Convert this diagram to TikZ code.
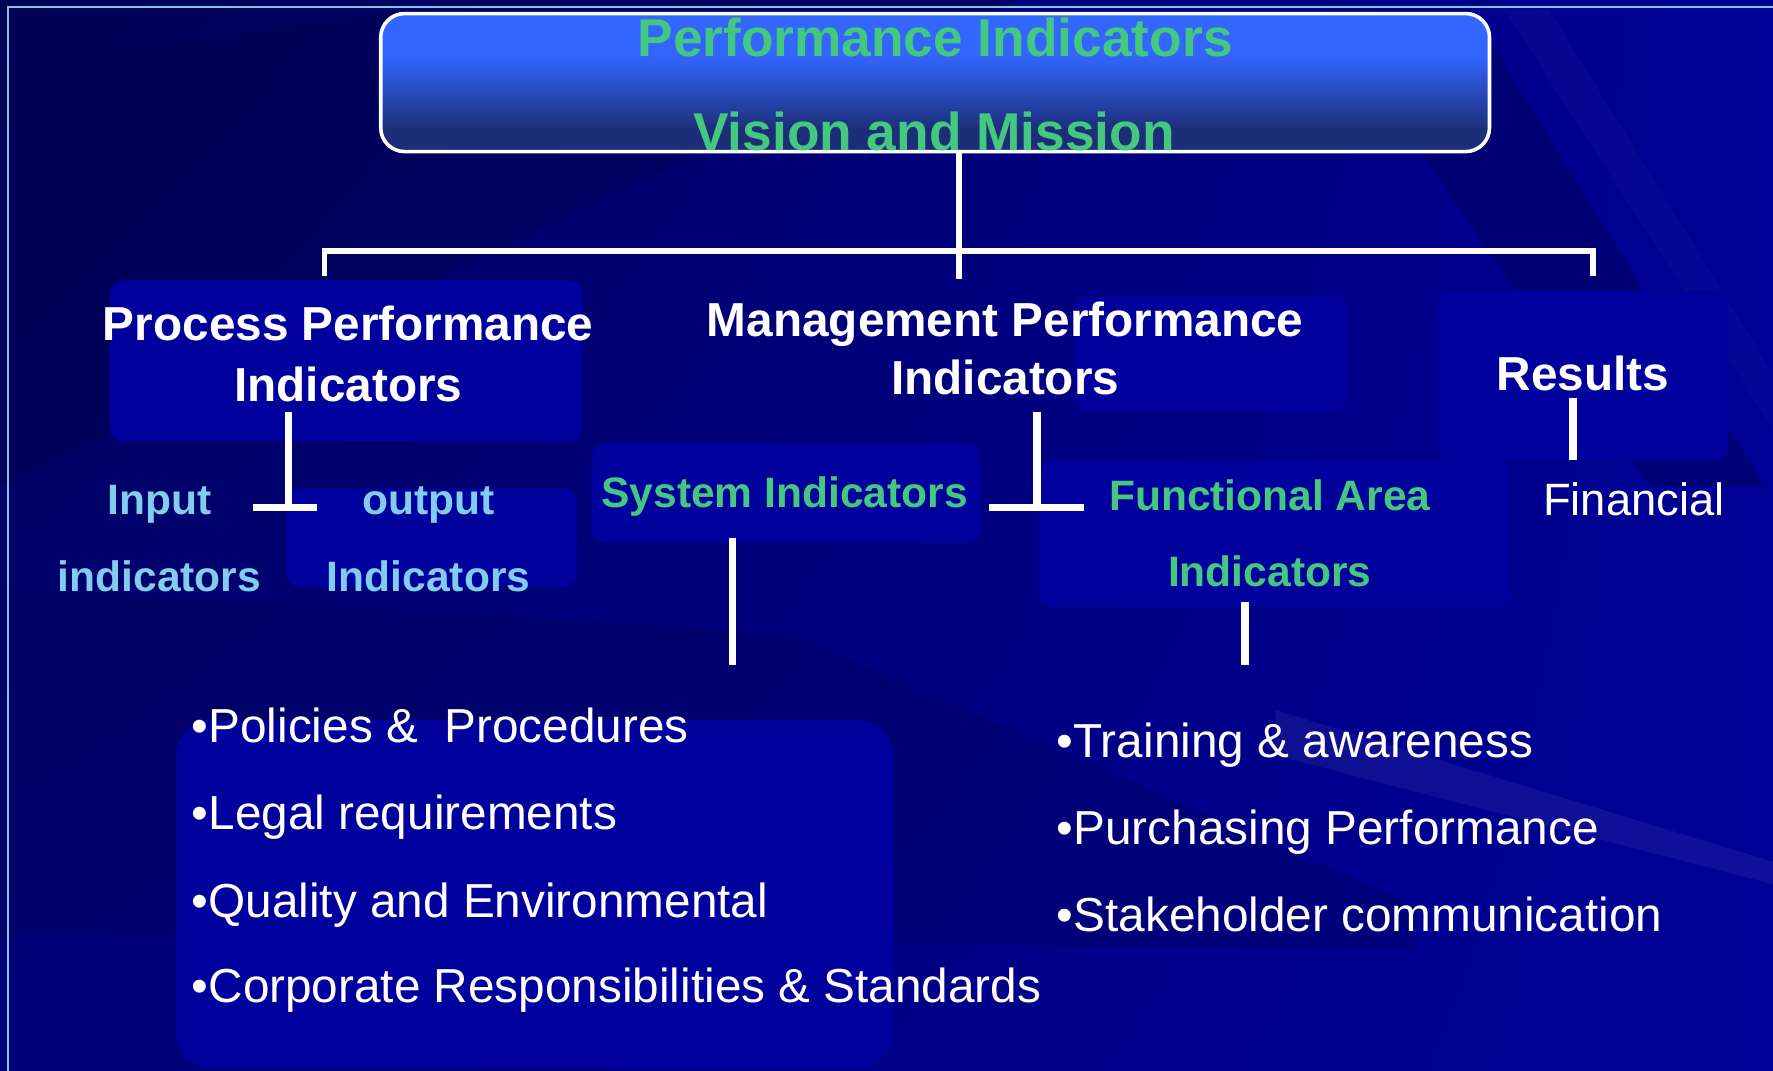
\documentclass[tikz,border=0pt]{standalone}
\usepackage{fontspec}
\setmainfont{Liberation Sans}
\usetikzlibrary{positioning,shadings}

\definecolor{bgdeep}{RGB}{0,0,84}
\definecolor{bgmid}{RGB}{0,0,122}
\definecolor{bglite}{RGB}{0,0,150}
\definecolor{panelblue}{RGB}{0,0,156}
\definecolor{framecyan}{RGB}{122,200,230}
\definecolor{boxtop}{RGB}{51,102,255}
\definecolor{boxbot}{RGB}{28,46,120}
\definecolor{kpigreen}{RGB}{68,199,127}
\definecolor{kpisky}{RGB}{130,205,238}

% top box: bright upper part, dark lower part
\pgfdeclareverticalshading{visionshade}{100bp}{color(0bp)=(boxbot); color(33bp)=(boxbot);
  color(60bp)=(boxtop); color(100bp)=(boxtop)}

\tikzset{
  panel/.style={fill=panelblue, rounded corners=0.12cm},
  link/.style={white, line width=1.4pt},
  stub/.style={white, line width=1.85pt},
  titletext/.style={text=kpigreen, font=\bfseries\fontsize{13.4}{16}\selectfont, anchor=base, inner sep=0pt},
  headtext/.style={text=white, font=\bfseries\fontsize{12}{15.4}\selectfont, align=center, anchor=base, inner sep=0pt},
  subtext/.style={text=kpigreen, font=\bfseries\fontsize{10.7}{19.3}\selectfont, align=center, anchor=base, inner sep=0pt},
  iotext/.style={subtext, text=kpisky},
  fintext/.style={text=white, font=\fontsize{11.4}{14}\selectfont, anchor=base, inner sep=0pt},
  listitem/.style={text=white, font=\fontsize{12}{14}\selectfont, anchor=base west, inner sep=0pt},
}

\begin{document}
\begin{tikzpicture}[x=0.01cm, y=-0.01cm]
  \useasboundingbox (0,0) rectangle (1568,947);

  % backdrop with its streaks
  \shade[upper left=bgdeep, upper right=bglite, lower left=bgmid, lower right=bglite]
    (0,0) rectangle (1568,947);
  \fill[bgdeep, opacity=.5] (0,60) -- (420,0) -- (900,0) -- (0,430) -- cycle;
  \fill[bgdeep, opacity=.3] (0,520) -- (700,560) -- (1250,800) -- (1250,840) -- (0,825) -- cycle;
  \fill[bgdeep, opacity=.45] (1170,8) -- (1300,8) -- (1560,430) -- (1460,430) -- cycle;
  \fill[white, opacity=.025] (1330,8) -- (1370,8) -- (1568,330) -- (1568,380) -- cycle;
  \fill[white, opacity=.06] (1128,628) -- (1568,762) -- (1568,782) -- (1128,668) -- cycle;
  \draw[framecyan, line width=.55pt] (7,947) -- (7,6) -- (1568,6);

  % panels behind the labels
  \fill[panel] (97,248) rectangle (515,390);
  \fill[panel] (253,432) rectangle (510,519);
  \fill[panel] (523,392) rectangle (867,480);
  \fill[panel] (950,262) rectangle (1192,363);
  \fill[panel] (1272,257) rectangle (1528,407);
  \fill[panel] (919,407) rectangle (1335,537);
  \fill[panel, rounded corners=.3cm] (156,637) rectangle (790,944);

  % top box
  \node[draw=white, line width=.9pt, rounded corners=.21cm, shading=visionshade,
        minimum width=9.8cm, minimum height=1.22cm, inner sep=0pt] (vision) at (827,73) {};
  \node[titletext] (pind) at (827,50) {Performance Indicators};
  \node[titletext] (vmis) at (826,133) {Vision and Mission};

  % second level (multi-line labels sit on their last baseline)
  \node[headtext] (proc) at (308,355) {Process Performance\\Indicators};
  \node[headtext, font=\bfseries\fontsize{12}{14.5}\selectfont] (mgmt) at (889,349)
    {Management Performance\\Indicators};
  \node[headtext] (res) at (1400,345) {Results};

  \node[iotext] (input) at (141,523) {Input\\indicators};
  \node[iotext] (output) at (379,523) {output\\Indicators};
  \node[subtext] (sys) at (694,449) {System Indicators};
  \node[subtext] (func) at (1123,519) {Functional Area\\Indicators};
  \node[fintext] (fin) at (1445,456) {Financial};

  % lists
  \node[listitem] (pol) at (169,657) {•Policies \&\ \ Procedures};
  \node[listitem] (legal) at (169,734) {•Legal requirements};
  \node[listitem] (qual) at (169,811) {•Quality and Environmental};
  \node[listitem] (corp) at (169,887) {•Corporate Responsibilities \& Standards};
  \node[listitem] (train) at (934,670) {•Training \& awareness};
  \node[listitem] (purch) at (934,747) {•Purchasing Performance};
  \node[listitem] (stake) at (934,824) {•Stakeholder communication};

  % connectors
  \coordinate (hub) at (848,222);
  \coordinate (pdrop) at (287,244);
  \coordinate (mdrop) at (848,247);
  \coordinate (rdrop) at (1409,244);
  \draw[link] (vision.south -| hub) -- (mdrop);
  \draw[link] (pdrop) |- (hub) -| (rdrop);

  \coordinate (pjoin) at (255,449);
  \coordinate (mjoin) at (917,449);
  \coordinate (sysend) at (648,588);
  \coordinate (funend) at (1101,588);
  \coordinate (resend) at (1391,407);
  \draw[stub, shorten <=.08cm] (proc.south -| pjoin) -- (pjoin);
  \draw[stub] (pjoin) +(-31,0) -- +(25,0);
  \draw[stub, shorten <=.14cm] (mgmt.south -| mjoin) -- (mjoin);
  \draw[stub] (mjoin) +(-42,0) -- +(42,0);
  \draw[stub, shorten <=.18cm] (sys.south -| sysend) -- (sysend);
  \draw[stub, shorten <=.12cm] (func.south -| funend) -- (funend);
  \draw[stub, shorten <=.06cm] (res.south -| resend) -- (resend);
\end{tikzpicture}
\end{document}
